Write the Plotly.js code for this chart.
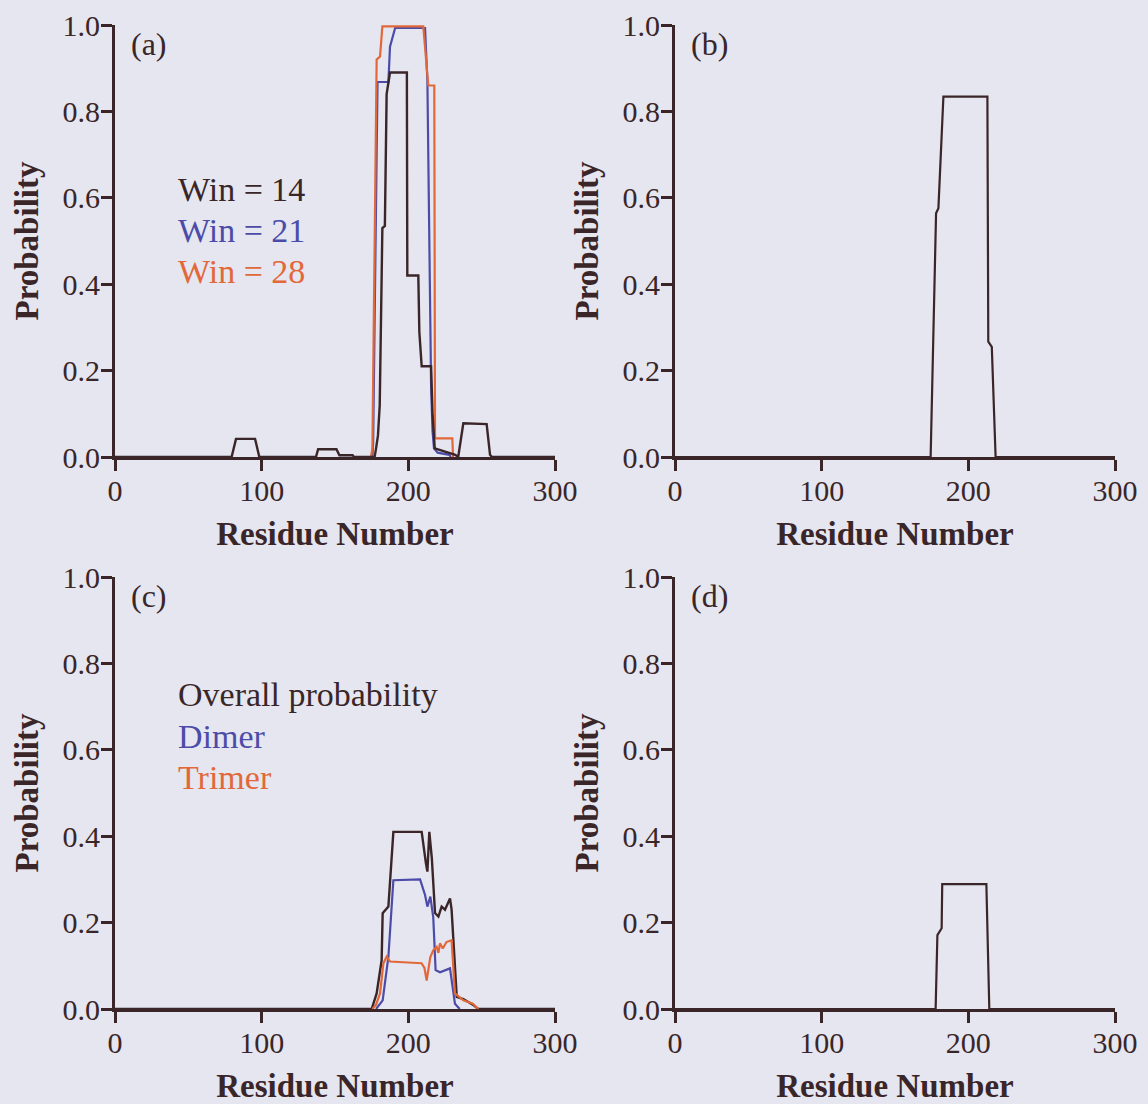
<!DOCTYPE html>
<html>
<head>
<meta charset="utf-8">
<script src="https://cdn.plot.ly/plotly-3.0.1.min.js"></script>
<style>
html,body{margin:0;padding:0;background:#e5e6f0;}
#chart{width:1148px;height:1104px;}
</style>
</head>
<body>
<div id="chart"></div>
<script>
// ---------- data ----------
const xTickVals = [0, 100, 200, 300];
const xTickText = ["0", "100", "200", "300"];
const yTickVals = [0, 0.2, 0.4, 0.6, 0.8, 1.0];
const yTickText = ["0.0", "0.2", "0.4", "0.6", "0.8", "1.0"];

// panel (a)
const aWin14X = [0, 79.5, 82.5, 95.5, 98.4, 137, 138.5, 151, 153, 162, 163, 177, 178, 179.3, 180.5, 181.2, 182.3, 184, 185.2, 187.5, 199, 199.3, 206.8, 207.5, 209.1, 215.5, 216.5, 218, 228, 232, 234, 237.5, 253.4, 255.7, 257, 300];
const aWin14Y = [0, 0, 0.042, 0.042, 0, 0, 0.018, 0.018, 0.004, 0.004, 0, 0, 0.02, 0.05, 0.12, 0.3, 0.53, 0.535, 0.84, 0.89, 0.89, 0.42, 0.42, 0.29, 0.21, 0.21, 0.1, 0.02, 0.01, 0.005, 0, 0.078, 0.076, 0.005, 0, 0];
const aWin21X = [175.5, 176, 179, 186.4, 187.5, 191, 211.4, 213, 215.5, 216.5, 217.5, 220, 228, 229];
const aWin21Y = [0, 0.03, 0.868, 0.868, 0.95, 0.993, 0.993, 0.87, 0.167, 0.06, 0.02, 0.01, 0.005, 0];
const aWin28X = [174.5, 175.5, 178.4, 180.7, 182.3, 210.2, 213.6, 217.7, 218.2, 230, 230.5];
const aWin28Y = [0, 0.02, 0.92, 0.927, 0.997, 0.997, 0.86, 0.86, 0.043, 0.043, 0];

// panel (b)
const bX = [0, 174.3, 178, 179.6, 183, 213, 213.6, 216, 218.6, 300];
const bY = [0, 0, 0.564, 0.576, 0.834, 0.834, 0.267, 0.255, 0, 0];

// panel (c)
const cOverallX = [0, 175, 178.4, 181.8, 182.5, 186.4, 189.8, 209.1, 212, 213, 214.3, 216, 218.2, 220.5, 222.7, 225, 228.4, 229.5, 233, 237.5, 244, 247.7, 300];
const cOverallY = [0, 0, 0.036, 0.113, 0.222, 0.237, 0.41, 0.41, 0.337, 0.318, 0.41, 0.35, 0.222, 0.214, 0.237, 0.23, 0.256, 0.23, 0.028, 0.023, 0.01, 0, 0];
const cDimerX = [178, 182.5, 186.4, 189.8, 208, 211.4, 213, 215, 217, 218.6, 221.6, 225, 228.4, 231.8, 235];
const cDimerY = [0, 0.02, 0.121, 0.298, 0.3, 0.264, 0.237, 0.26, 0.212, 0.09, 0.085, 0.09, 0.094, 0.012, 0];
const cTrimerX = [175.5, 178, 180.7, 183, 185.2, 187.5, 209, 211, 212.5, 215, 217, 219.3, 220.5, 221.6, 223.5, 226, 229.5, 231.8, 237.5, 244, 247.7];
const cTrimerY = [0, 0.01, 0.036, 0.106, 0.121, 0.11, 0.106, 0.095, 0.066, 0.12, 0.136, 0.144, 0.13, 0.152, 0.14, 0.155, 0.159, 0.036, 0.02, 0.012, 0];

// panel (d)
const dX = [0, 177.7, 178.9, 181.8, 182.2, 212.3, 214.3, 300];
const dY = [0, 0, 0.171, 0.187, 0.289, 0.289, 0, 0];

const panelLabels = ["(a)", "(b)", "(c)", "(d)"];
const legendA = ["Win = 14", "Win = 21", "Win = 28"];
const legendC = ["Overall probability", "Dimer", "Trimer"];

// ---------- styles ----------
const W = 1148, H = 1104;
const DARK = "#3a2628";
const BLUE = "#4c4ca8";
const ORANGE = "#e2683a";
const BG = "#e5e6f0";
const FONT = "Liberation Serif, Times New Roman, serif";

function line(x, y, color, xa, ya, name, width) {
  return {x: x, y: y, type: "scatter", mode: "lines", name: name,
          xaxis: xa, yaxis: ya, line: {color: color, width: width || 2.2},
          showlegend: false, hoverinfo: "skip"};
}

const traces = [
  line(aWin21X, aWin21Y, BLUE, "x", "y", legendA[1]),
  line(aWin28X, aWin28Y, ORANGE, "x", "y", legendA[2]),
  line(aWin14X, aWin14Y, DARK, "x", "y", legendA[0], 2.4),
  line(bX, bY, DARK, "x2", "y2", "b", 2.2),
  line(cOverallX, cOverallY, DARK, "x3", "y3", legendC[0], 2.4),
  line(cDimerX, cDimerY, BLUE, "x3", "y3", legendC[1]),
  line(cTrimerX, cTrimerY, ORANGE, "x3", "y3", legendC[2]),
  line(dX, dY, DARK, "x4", "y4", "d", 2.2)
];

const px = v => v / W;
const py = v => 1 - v / H;

const xDomL = [px(115), px(555)];
const xDomR = [px(675), px(1115)];
const yDomT = [py(457), py(25)];
const yDomB = [py(1009), py(577)];

function xAxis(domain, anchor) {
  return {domain: domain, anchor: anchor, range: [0, 300], tickvals: xTickVals, ticktext: xTickText,
          showline: true, linecolor: DARK, linewidth: 3, ticks: "outside", ticklen: 11, tickwidth: 3,
          tickcolor: DARK, showgrid: false, zeroline: false, fixedrange: true, ticklabelstandoff: -6,
          layer: "above traces",
          tickfont: {family: FONT, size: 30, color: DARK},
          title: {text: "Residue Number", standoff: 16, font: {family: FONT, size: 33, color: DARK, weight: "bold"}}};
}
function yAxis(domain, anchor) {
  return {domain: domain, anchor: anchor, range: [0, 1], tickvals: yTickVals, ticktext: yTickText,
          showline: true, linecolor: DARK, linewidth: 3, ticks: "outside", ticklen: 11, tickwidth: 3,
          tickcolor: DARK, showgrid: false, zeroline: false, fixedrange: true, ticklabelstandoff: -5,
          layer: "above traces",
          tickfont: {family: FONT, size: 30, color: DARK},
          title: {text: "Probability", standoff: 14, font: {family: FONT, size: 33, color: DARK, weight: "bold"}}};
}

const annotations = [];
const labelPos = [[129, 44], [689, 44], [129, 596], [689, 596]];
panelLabels.forEach((t, i) => annotations.push({
  text: t, xref: "paper", yref: "paper", x: px(labelPos[i][0]), y: py(labelPos[i][1]),
  xanchor: "left", yanchor: "middle", showarrow: false,
  font: {family: FONT, size: 32, color: DARK}
}));
const legColors = [DARK, BLUE, ORANGE];
const legAy = [189, 231, 271];
const legCy = [694, 736, 777];
legendA.forEach((t, i) => annotations.push({
  text: t, xref: "paper", yref: "paper", x: px(176), y: py(legAy[i]),
  xanchor: "left", yanchor: "middle", showarrow: false,
  font: {family: FONT, size: 34, color: legColors[i]}
}));
legendC.forEach((t, i) => annotations.push({
  text: t, xref: "paper", yref: "paper", x: px(176), y: py(legCy[i]),
  xanchor: "left", yanchor: "middle", showarrow: false,
  font: {family: FONT, size: 34, color: legColors[i]}
}));

const layout = {
  width: W, height: H,
  margin: {l: 0, r: 0, t: 0, b: 0},
  paper_bgcolor: BG, plot_bgcolor: BG,
  showlegend: false,
  xaxis: xAxis(xDomL, "y"), yaxis: yAxis(yDomT, "x"),
  xaxis2: xAxis(xDomR, "y2"), yaxis2: yAxis(yDomT, "x2"),
  xaxis3: xAxis(xDomL, "y3"), yaxis3: yAxis(yDomB, "x3"),
  xaxis4: xAxis(xDomR, "y4"), yaxis4: yAxis(yDomB, "x4"),
  annotations: annotations
};

Plotly.newPlot("chart", traces, layout, {displayModeBar: false, staticPlot: true});
</script>
</body>
</html>
